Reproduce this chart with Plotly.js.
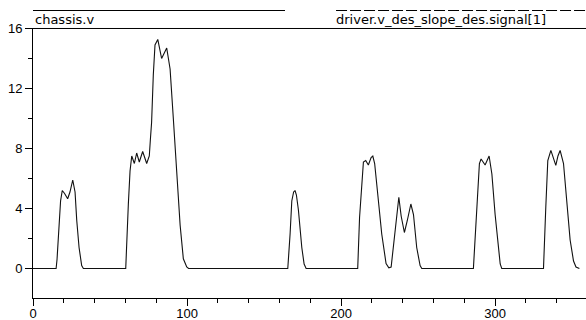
<!DOCTYPE html>
<html>
<head>
<meta charset="utf-8">
<script src="https://cdn.plot.ly/plotly-3.0.1.min.js"></script>
<style>html,body{margin:0;padding:0;background:#fff;}#chart{width:586px;height:320px;}</style>
</head>
<body>
<div id="chart"></div>
<script>
// time [s]
var time = [0, 15, 15.6, 16.4, 17, 17.9, 19, 20.5, 22.5, 24, 25.8, 27.3, 28.4, 29.9, 31.6, 32.7,
  60.2, 60.8, 61.9, 63, 64.1, 65.8, 67.3, 69, 71.2, 73.8, 75.5, 76.2, 77, 78.1, 79.2, 81, 83.5, 86.8, 89, 91.1, 93.3, 95.5, 97.6, 99.8, 101,
  165.4, 166.9, 168, 169.2, 170.1, 171, 172.3, 174.5, 176, 177.3,
  210.8, 212, 213.4, 214.5, 216, 217.7, 219.5, 220.6, 221.8, 223.2, 225.3, 226.4, 229.2, 231, 232.5, 235, 236.3, 237.5, 239, 241.1, 243, 245.3, 247, 249.1, 251.3, 252.4,
  285.9, 287, 288.1, 289.8, 290.9, 293.5, 296.1, 297.9, 300, 302.2, 303.3, 304.3,
  331.4, 332.9, 334.2, 336.2, 337.8, 339.4, 340.8, 342.2, 344.4, 346.6, 348.7, 350.9, 352.5, 354.7];
// chassis.v (driver.v_des_slope_des.signal[1] overlaps it exactly)
var chassisV = [0, 0, 0.6, 2.1, 3.2, 4.5, 5.2, 5.0, 4.65, 5.1, 5.9, 5.1, 3.2, 1.4, 0.2, 0,
  0, 1.7, 4.3, 6.5, 7.5, 7.0, 7.7, 7.1, 7.8, 7.0, 7.5, 8.6, 9.75, 12.9, 14.9, 15.27, 14.0, 14.7, 13.3, 10.0, 6.2, 2.9, 0.65, 0.1, 0,
  0, 2.3, 4.5, 5.1, 5.2, 4.9, 3.9, 1.4, 0.3, 0,
  0, 3.4, 5.7, 7.1, 7.2, 6.9, 7.4, 7.5, 7.0, 5.6, 3.7, 2.3, 0.33, 0.05, 0.1, 2.6, 4.0, 4.75, 3.5, 2.4, 3.2, 4.3, 3.6, 1.4, 0.2, 0,
  0, 1.8, 4.1, 7.0, 7.3, 6.9, 7.5, 6.3, 3.6, 1.2, 0.3, 0,
  0, 4.1, 7.2, 7.87, 7.3, 6.87, 7.5, 7.87, 7.0, 4.1, 1.9, 0.5, 0.1, 0];

var seriesNames = ["chassis.v", "driver.v_des_slope_des.signal[1]"];
var yTickVals = [0, 4, 8, 12, 16];
var xTickVals = [0, 100, 200, 300];

var traces = [
  {x: time, y: chassisV, type: 'scatter', mode: 'lines', name: seriesNames[0],
   line: {color: '#111', width: 1.1}, hoverinfo: 'skip'}
];

var tickFont = {family: 'Liberation Sans, Arial, sans-serif', size: 13, color: '#000'};
var legFont = {family: 'DejaVu Sans, sans-serif', size: 13, color: '#000'};

var layout = {
  width: 586, height: 320,
  margin: {l: 33, r: 0, t: 28, b: 22, pad: 0},
  paper_bgcolor: '#fff', plot_bgcolor: '#fff',
  showlegend: false,
  xaxis: {
    range: [0, 359], showgrid: false, zeroline: false,
    showline: true, linecolor: '#000', linewidth: 1,
    ticks: 'outside', ticklen: 7, tickcolor: '#000', tickwidth: 1,
    tickvals: xTickVals, tickfont: tickFont, ticklabelstandoff: -4,
    minor: {dtick: 20, ticks: 'outside', ticklen: 4, tickcolor: '#000', showgrid: false}
  },
  yaxis: {
    range: [-1.9667, 16.0333], showgrid: false, zeroline: false,
    showline: true, linecolor: '#000', linewidth: 1,
    ticks: 'outside', ticklen: 7, tickcolor: '#000', tickwidth: 1,
    tickvals: yTickVals, tickfont: tickFont,
    minor: {dtick: 2, tick0: 0, ticks: 'outside', ticklen: 4, tickcolor: '#000', showgrid: false}
  },
  shapes: [
    {type: 'line', xref: 'paper', yref: 'paper', x0: 0, x1: 1, y0: 0.99815, y1: 0.99815, line: {color: '#000', width: 1}},
    {type: 'line', xref: 'paper', yref: 'paper', x0: 0, x1: 0.4557, y0: 1.0648, y1: 1.0648, line: {color: '#000', width: 1}},
    {type: 'line', xref: 'paper', yref: 'paper', x0: 0.548, x1: 1, y0: 1.0648, y1: 1.0648, line: {color: '#000', width: 1, dash: '11px,3px'}}
  ],
  annotations: [
    {xref: 'paper', yref: 'paper', x: 0.002, y: 1.0315, xanchor: 'left', yanchor: 'middle', showarrow: false,
     text: seriesNames[0], font: legFont, borderpad: 0},
    {xref: 'paper', yref: 'paper', x: 0.546, y: 1.0315, xanchor: 'left', yanchor: 'middle', showarrow: false,
     text: seriesNames[1], font: legFont, borderpad: 0}
  ]
};

Plotly.newPlot('chart', traces, layout, {staticPlot: true, displayModeBar: false});
</script>
</body>
</html>
